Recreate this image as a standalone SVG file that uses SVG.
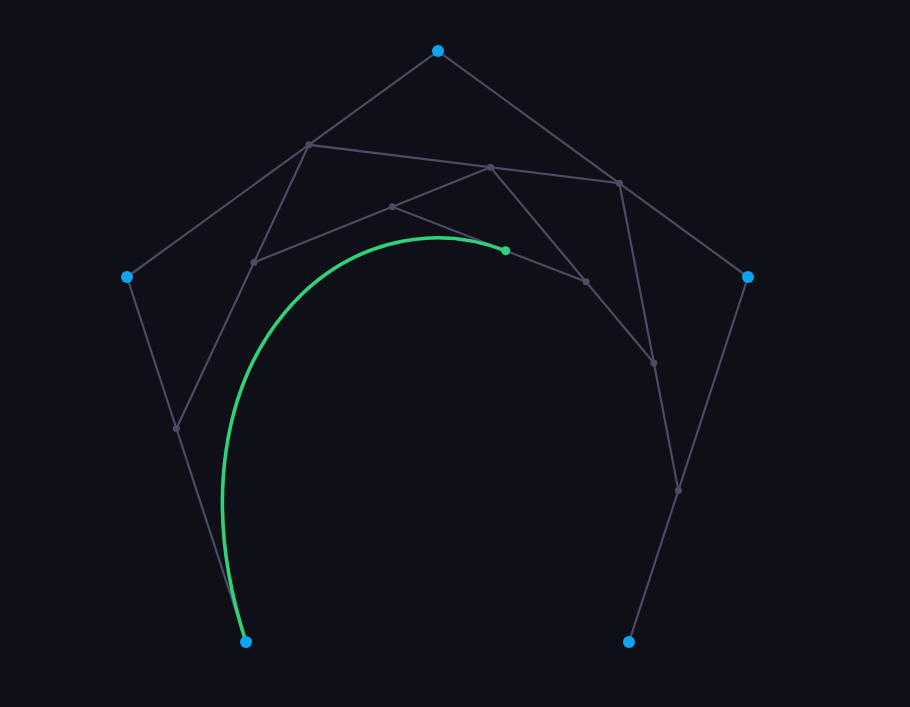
<svg xmlns="http://www.w3.org/2000/svg" width="910" height="707" viewBox="0 0 910 707">
<style>
.bg{fill:#0e0f17}
.ln{stroke:#4c4a64;stroke-width:2.2;fill:none;stroke-linecap:round}
.cp{fill:#0ea5f0}
.ip{fill:#4c4a64}
.cv{stroke:#2fd27a;stroke-width:3.6;fill:none;stroke-linecap:round}
.pt{fill:#2fd27a}
</style>
<rect class="bg" x="0" y="0" width="910" height="707"/>
<g id="connectors">
<polyline class="ln" points="246,642 127,277 438,51 748,277 629,642"/>
<polyline class="ln" points="176.4,428.5 308.9,144.8 619.4,183.2 678.4,490.5"/>
<polyline class="ln" points="253.9,262.5 490.5,167.3 653.9,363"/>
<polyline class="ln" points="392.3,206.8 586.1,281.8"/>
</g>
<g id="curve">
<path class="cv" d="M246,642 C222.8,570.8 218,505.7 226.2,449.9 C234.4,394.2 255.6,347.8 284.4,313.1 C313.2,278.3 349.6,255.1 388.3,244.5 C427,234 467.9,236.1 505.7,250.7"/>
</g>
<g id="P0"><circle class="cp" cx="246" cy="642" r="6"/></g>
<g id="P1"><circle class="cp" cx="127" cy="277" r="6"/></g>
<g id="P2"><circle class="cp" cx="438" cy="51" r="6"/></g>
<g id="P3"><circle class="cp" cx="748" cy="277" r="6"/></g>
<g id="P4"><circle class="cp" cx="629" cy="642" r="6"/></g>
<g id="L1a"><circle class="ip" cx="176.4" cy="428.5" r="3.5"/></g>
<g id="L1b"><circle class="ip" cx="308.9" cy="144.8" r="3.5"/></g>
<g id="L1c"><circle class="ip" cx="619.4" cy="183.2" r="3.5"/></g>
<g id="L1d"><circle class="ip" cx="678.4" cy="490.5" r="3.5"/></g>
<g id="L2a"><circle class="ip" cx="253.9" cy="262.5" r="3.5"/></g>
<g id="L2b"><circle class="ip" cx="490.5" cy="167.3" r="3.5"/></g>
<g id="L2c"><circle class="ip" cx="653.9" cy="363" r="3.5"/></g>
<g id="L3a"><circle class="ip" cx="392.3" cy="206.8" r="3.5"/></g>
<g id="L3b"><circle class="ip" cx="586.1" cy="281.8" r="3.5"/></g>
<g id="B"><circle class="pt" cx="505.7" cy="250.7" r="4.5"/></g>
</svg>
